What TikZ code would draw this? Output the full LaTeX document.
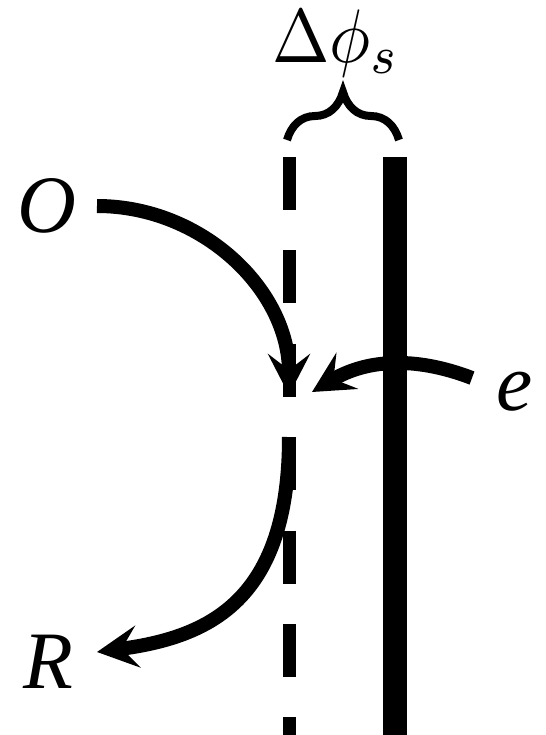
\documentclass[tikz,border=0pt]{standalone}
\usepackage{fontspec}
\usepackage{graphicx}
\newfontfamily\lblfont{Liberation Serif}
\usetikzlibrary{arrows.meta,positioning,decorations.pathreplacing}
\tikzset{
  lbl/.style={font=\lblfont\itshape\fontsize{58}{60}\selectfont, inner sep=0pt, outer sep=0pt},
  flow/.style={-{Stealth[length=10.25mm,width=10.5mm,inset=4mm]}, line width=3.5mm},
  wall/.style={line width=6mm},
  shiftwall/.style={line width=3.25mm, dash pattern=on 13.25mm off 10.1mm},
  bracket/.style={decorate, decoration={brace, amplitude=12mm}, line width=2mm}
}
\begin{document}
\begin{tikzpicture}[x=0.25mm, y=0.25mm]
  \useasboundingbox (0,0) rectangle (546,-735);
  % the two planes
  \coordinate (dtop) at (289,-157);
  \coordinate (dbot) at (289,-735);
  \coordinate (stop) at (395,-157);
  \coordinate (sbot) at (395,-735);
  \draw[shiftwall] (dtop) -- (dbot);
  \draw[wall] (stop) -- (sbot);
  % gap between them
  \coordinate (bl) at (287,-140);
  \coordinate (br) at (399,-140);
  \draw[bracket] (bl) -- (br);
  \node[inner sep=0pt, anchor=base west] (dphi) at (272,-62) {\scalebox{4.9}[5.4]{$\Delta\phi_s$}};
  % labels
  \node[lbl, anchor=east] (O) at (76,-206) {O};
  \node[lbl, anchor=east] (R) at (73,-662) {R};
  \node[lbl, anchor=west] (e) at (496,-392) {e};
  \coordinate (hit) at (289,-395);
  \coordinate (ehit) at (312,-392);
  \coordinate (leave) at (289,-437);
  \draw[flow] ([xshift=5.25mm]O.east) to[out=0, in=90] (hit);
  \draw[flow] ([xshift=-6mm, yshift=3.5mm]e.west) to[bend right=26] (ehit);
  \draw[flow] (leave) to[out=-90, in=7.5, out distance=40.75mm, in distance=28.5mm]
    ([xshift=6mm, yshift=2.5mm]R.east);
\end{tikzpicture}
\end{document}
